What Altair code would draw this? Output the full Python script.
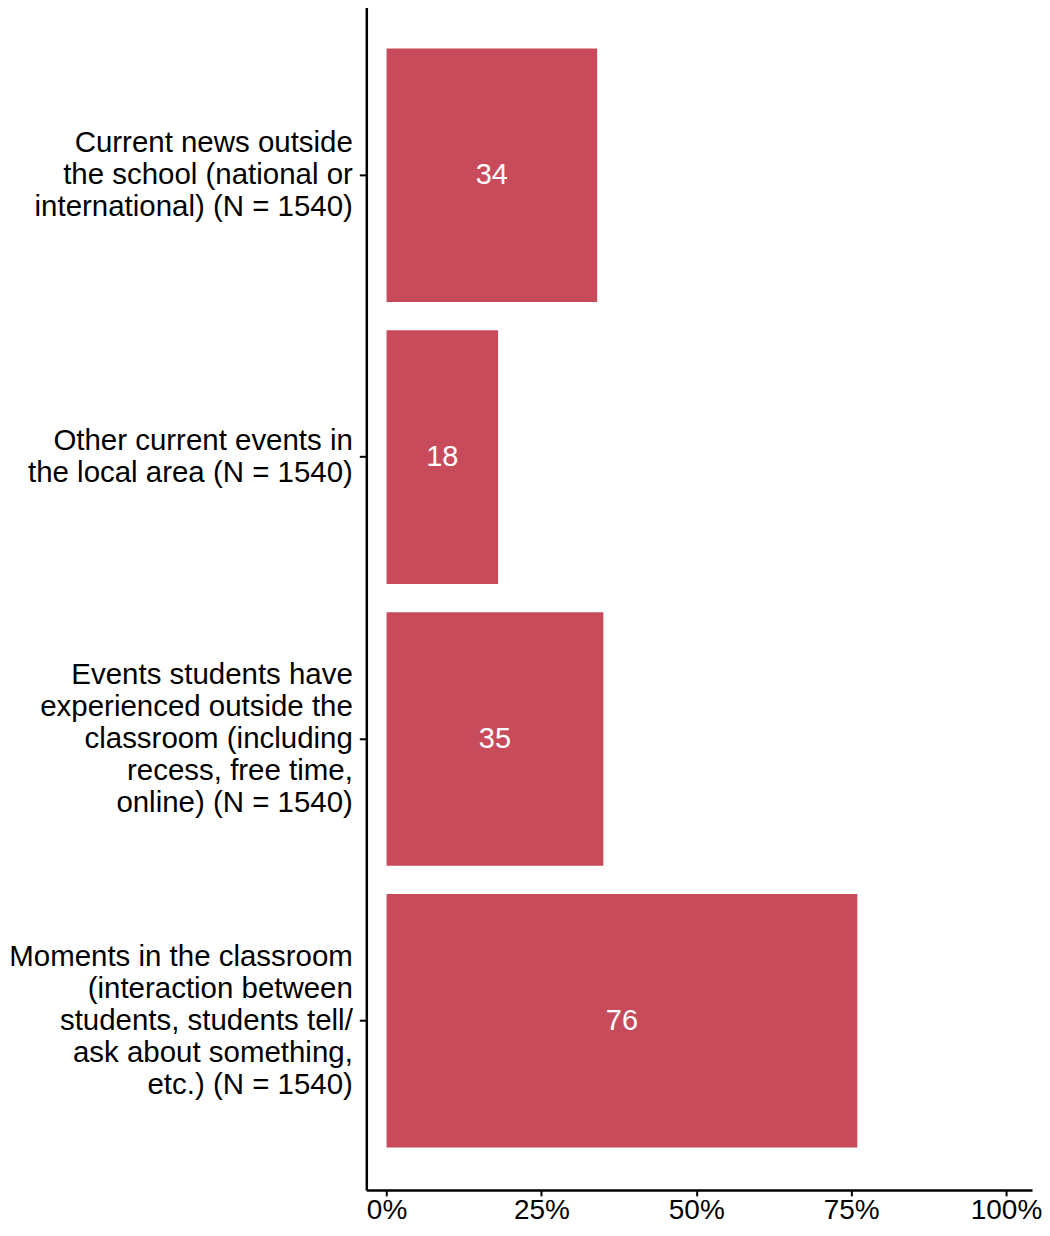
import altair as alt
import pandas as pd

categories = [
    "Current news outside|the school (national or|international) (N = 1540)",
    "Other current events in|the local area (N = 1540)",
    "Events students have|experienced outside the|classroom (including|recess, free time,|online) (N = 1540)",
    "Moments in the classroom|(interaction between|students, students tell/|ask about something,|etc.) (N = 1540)",
]
values = [34, 18, 35, 76]
x_ticks = [0, 25, 50, 75, 100]

df = pd.DataFrame({"cat": categories, "value": values})

nlines = "length(split(datum.value, '|'))"

y_enc = alt.Y(
    "cat:N",
    sort=categories,
    title=None,
    scale=alt.Scale(paddingInner=0.1, paddingOuter=0.15),
    axis=alt.Axis(
        labelExpr="split(datum.label, '|')",
        labelLineHeight=32,
        labelFontSize=29.5,
        labelLimit=400,
        labelPadding=7,
        tickSize=7,
        labelOffset={
            "condition": [
                {"test": nlines + " == 2", "value": -16},
                {"test": nlines + " == 3", "value": -32},
                {"test": nlines + " == 5", "value": -64},
            ],
            "value": 0,
        },
    ),
)

x_scale = alt.Scale(domain=[-3.27, 104.2], nice=False, zero=False)

bars = alt.Chart(df).mark_bar(color="#C84B5B").encode(
    x=alt.X(
        "value:Q",
        scale=x_scale,
        title=None,
        axis=alt.Axis(values=x_ticks, labelExpr="datum.value + '%'", labelFontSize=28,
                      tickSize=6, labelPadding=1),
    ),
    x2=alt.datum(0),
    y=y_enc,
)

labels = alt.Chart(df).transform_calculate(mid="datum.value / 2").mark_text(
    color="white", fontSize=29, font="Liberation Sans"
).encode(
    x=alt.X("mid:Q", scale=x_scale),
    y=alt.Y("cat:N", sort=categories),
    text=alt.Text("value:Q"),
)

chart = (
    alt.layer(bars, labels)
    .properties(width=667, height=1186, padding={"left": 0, "top": -3, "right": 0, "bottom": 0})
    .configure_view(stroke=None)
    .configure_axis(
        grid=False,
        domainColor="black",
        domainWidth=2.5,
        tickColor="black",
        tickWidth=2,
        labelColor="black",
        labelFont="Liberation Sans",
    )
)

chart.save("out.html", embed_options={"renderer": "svg", "actions": False})
